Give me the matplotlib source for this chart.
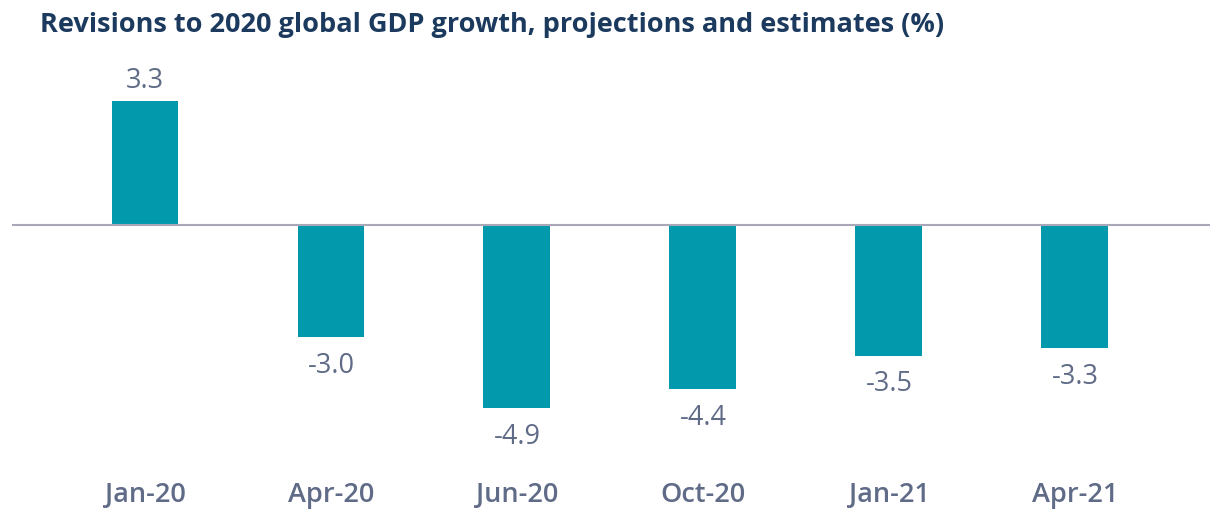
import matplotlib
matplotlib.use("Agg")
import matplotlib.pyplot as plt

periods = ["Jan-20", "Apr-20", "Jun-20", "Oct-20", "Jan-21", "Apr-21"]
growth = [3.3, -3.0, -4.9, -4.4, -3.5, -3.3]

BAR = "#0399ad"
LABEL = "#5f6b87"
TITLE = "#1b3a5e"
AXIS = "#a8a8b8"

plt.rcParams["font.family"] = ["Open Sans", "DejaVu Sans"]

W, H = 1220, 510
fig = plt.figure(figsize=(W / 100, H / 100), dpi=100)
ax = fig.add_axes([12 / W, (H - 460) / H, 1198 / W, 380 / H])

x = list(range(len(periods)))
ax.bar(x, growth, width=0.36, color=BAR, zorder=2)
ax.axhline(0, color=AXIS, lw=1.5, zorder=3)
ax.set_xlim(-0.715, 5.726)
ax.set_ylim(-6.26, 3.90)

for xi, v in zip(x, growth):
    off = 0.58 if v > 0 else -0.74
    ax.text(xi, v + off, f"{v:.1f}", ha="center", va="center",
            fontsize=19.5, color=LABEL)

ax.set_xticks(x)
ax.set_xticklabels(periods, fontsize=19.5, color=LABEL, fontweight="semibold")
ax.tick_params(axis="x", length=0, pad=15)
ax.set_yticks([])
for s in ax.spines.values():
    s.set_visible(False)

fig.text(40 / W, 1 - 25 / H, "Revisions to 2020 global GDP growth, projections and estimates (%)",
         ha="left", va="center", fontsize=19.5, fontweight="bold", color=TITLE)

fig.savefig("out.png", dpi=100, facecolor="white")
